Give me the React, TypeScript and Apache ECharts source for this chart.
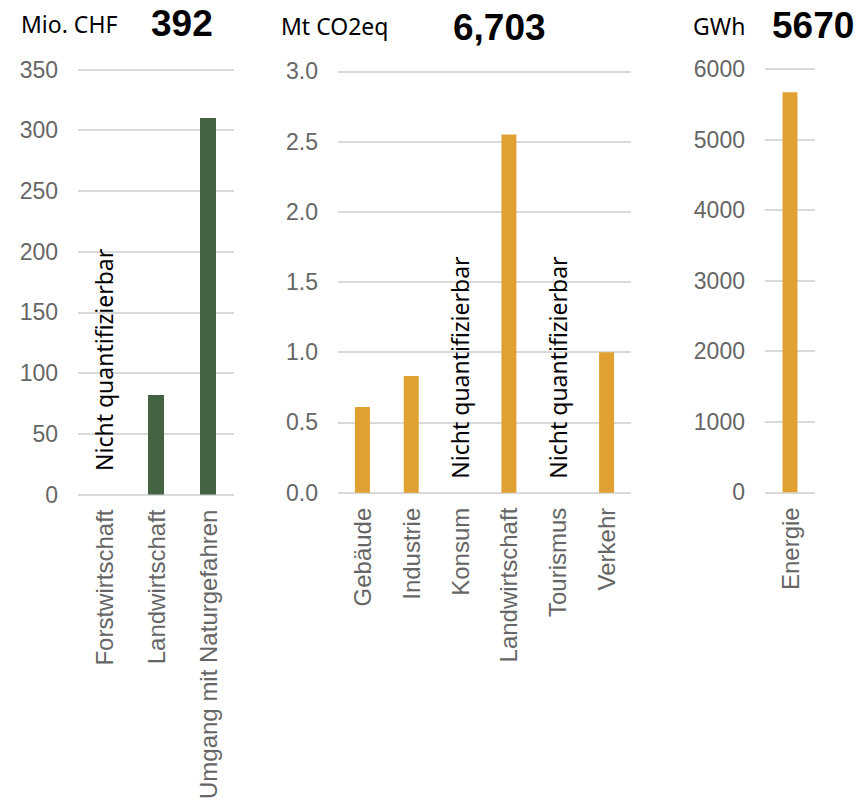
import React, { useEffect, useRef } from "react";
import * as echarts from "echarts";

// Panel 1: costs
const categories1 = ["Forstwirtschaft", "Landwirtschaft", "Umgang mit Naturgefahren"];
const values1: (number | null)[] = [null, 82, 310];
// Panel 2: emissions
const categories2 = ["Gebäude", "Industrie", "Konsum", "Landwirtschaft", "Tourismus", "Verkehr"];
const values2: (number | null)[] = [0.61, 0.83, null, 2.55, null, 1.0];
// Panel 3: energy
const categories3 = ["Energie"];
const values3: (number | null)[] = [5670];

const unitLabels = ["Mio. CHF", "Mt CO2eq", "GWh"];
const totals = ["392", "6,703", "5670"];
const notQuantifiable = "Nicht quantifizierbar";

const GREEN = "#436343";
const ORANGE = "#E0A132";
const GRID = "#d9d9d9";
const LABEL = "#666666";
const AXIS_FONT = '"Liberation Sans", Arial, sans-serif';
const TEXT_FONT = '"Noto Sans", "Open Sans", sans-serif';

function buildData(vals: (number | null)[], dy: number) {
  return vals.map((v) =>
    v === null
      ? {
          value: 0,
          label: {
            show: true,
            formatter: notQuantifiable,
            position: ["50%", dy],
            offset: [3, 0],
            rotate: 90,
            align: "left",
            verticalAlign: "middle",
            fontFamily: TEXT_FONT,
            fontSize: 23,
            color: "#000",
          },
        }
      : { value: v }
  );
}

export default function App() {
  const ref = useRef<HTMLDivElement>(null);

  useEffect(() => {
    if (!ref.current) return;
    const chart = echarts.init(ref.current, null, { renderer: "svg" });

    const yAxisBase = {
      type: "value",
      axisLine: { show: false },
      axisTick: { show: false },
      splitLine: { lineStyle: { color: GRID, width: 2 } },
      axisLabel: {
        color: LABEL,
        fontSize: 23,
        fontFamily: AXIS_FONT,
        margin: 20,
        formatter: (v: number) => String(v),
      },
    };
    const xAxisBase = {
      type: "category",
      axisLine: { show: false },
      axisTick: { show: false },
      axisLabel: {
        color: LABEL,
        fontSize: 24,
        fontFamily: AXIS_FONT,
        rotate: 90,
        margin: 15,
        interval: 0,
      },
    };

    const titleText = (text: string, x: number, y: number, bold: boolean) => ({
      type: "text",
      x,
      y,
      style: {
        text,
        fill: "#000",
        font: bold ? `bold 37px ${AXIS_FONT}` : `23px ${TEXT_FONT}`,
        verticalAlign: "middle",
      },
    });

    chart.setOption({
      animation: false,
      backgroundColor: "#ffffff",
      grid: [
        { left: 78, top: 69.5, width: 156, height: 426 },
        { left: 338, top: 71.3, width: 293, height: 421.4 },
        { left: 765, top: 69, width: 50, height: 423.3 },
      ],
      xAxis: [
        { ...xAxisBase, gridIndex: 0, data: categories1 },
        { ...xAxisBase, gridIndex: 1, data: categories2 },
        { ...xAxisBase, gridIndex: 2, data: categories3 },
      ],
      yAxis: [
        { ...yAxisBase, gridIndex: 0, min: 0, max: 350, interval: 50 },
        {
          ...yAxisBase,
          gridIndex: 1,
          min: 0,
          max: 3,
          interval: 0.5,
          axisLabel: { ...yAxisBase.axisLabel, formatter: (v: number) => v.toFixed(1) },
        },
        { ...yAxisBase, gridIndex: 2, min: 0, max: 6000, interval: 1000 },
      ],
      series: [
        {
          type: "bar",
          xAxisIndex: 0,
          yAxisIndex: 0,
          barWidth: 16,
          itemStyle: { color: GREEN },
          data: buildData(values1, -20.5),
        },
        {
          type: "bar",
          xAxisIndex: 1,
          yAxisIndex: 1,
          barWidth: 15,
          itemStyle: { color: ORANGE },
          data: buildData(values2, -11),
        },
        {
          type: "bar",
          xAxisIndex: 2,
          yAxisIndex: 2,
          barWidth: 15,
          itemStyle: { color: ORANGE },
          data: buildData(values3, -11),
        },
      ],
      graphic: [
        titleText(unitLabels[0], 21, 24, false),
        titleText(totals[0], 151, 23, true),
        titleText(unitLabels[1], 281, 26, false),
        titleText(totals[1], 453, 27, true),
        titleText(unitLabels[2], 693, 26, false),
        titleText(totals[2], 772, 25, true),
      ],
    });

    return () => chart.dispose();
  }, []);

  return (
    <div
      ref={ref}
      style={{ position: "absolute", left: 0, top: 0, width: 856, height: 802 }}
    />
  );
}
